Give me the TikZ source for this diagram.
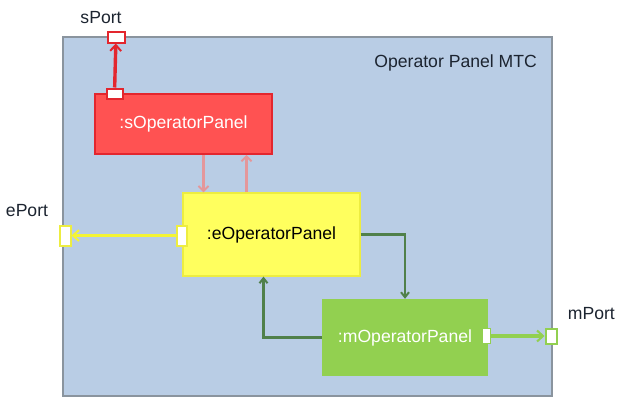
\documentclass[tikz,border=0pt]{standalone}
\usepackage{fontspec}
\setmainfont{Liberation Sans}
\usepackage{xcolor}
\usepackage{tikz}
\usetikzlibrary{arrows.meta}
\definecolor{mtcblue}{HTML}{B9CDE5}
\definecolor{mtcgray}{HTML}{8A949E}
\definecolor{panelred}{HTML}{FF5252}
\definecolor{edgered}{HTML}{E3262E}
\definecolor{panelyellow}{HTML}{FFFF5E}
\definecolor{edgeyellow}{HTML}{EDED40}
\definecolor{panelgreen}{HTML}{92D050}
\definecolor{linkpink}{HTML}{E4979B}
\definecolor{linkgreen}{HTML}{50804A}
\definecolor{linkyellow}{HTML}{F4F434}
\definecolor{textdark}{HTML}{1C2430}

\begin{document}
\begin{tikzpicture}[
        x=1pt, y=-1pt,
        font=\fontsize{17.6}{20}\selectfont,
        container/.style={rectangle, draw=mtcgray, line width=1.8pt, fill=mtcblue},
        panel/.style={rectangle, inner sep=0pt, minimum width=#1},
        portbox/.style={rectangle, inner sep=0pt, fill=white, line width=2pt},
        label/.style={inner sep=0pt, text=textdark},
        barb/.style={-{Straight Barb[length=6pt, width=11pt, line width=2pt]}},
        pinkarrow/.style={-{Straight Barb[length=5pt, width=10pt, line width=2pt]}, draw=linkpink, line width=3pt},
        darkarrow/.style={-{Straight Barb[length=5pt, width=8pt, line width=2pt]}, draw=linkgreen, line width=2.6pt}
    ]
        \useasboundingbox (0,0) rectangle (617,399);

        \node[container, inner sep=0pt, minimum width=489pt, minimum height=359pt] (mtc) at (307.5,216.5) {};
        \node[label, anchor=east] (title) at (537,63) {Operator Panel MTC};

        \node[panel=177pt, minimum height=60pt, fill=panelred, draw=edgered, line width=1.8pt, text=white] (spanel) at (183.5,124) {:sOperatorPanel};
        \node[panel=177pt, minimum height=83pt, fill=panelyellow, draw=edgeyellow, line width=1.2pt] (epanel) at (271.5,234.5) {:eOperatorPanel};
        \node[panel=166pt, minimum height=77pt, fill=panelgreen, text=white] (mpanel) at (405,337.5) {\raisebox{3pt}{:mOperatorPanel}};

        \node[portbox, draw=edgered, minimum width=16pt, minimum height=10pt] (sin) at (114.5,93.5) {};
        \node[portbox, draw=edgered, minimum width=17pt, minimum height=11pt] (sport) at (116,37) {};
        \node[portbox, draw=edgeyellow, minimum width=10pt, minimum height=20pt] (ein) at (181.5,235.5) {};
        \node[portbox, draw=edgeyellow, minimum width=11pt, minimum height=20pt] (eport) at (65,235.5) {};
        \node[portbox, draw=panelgreen, line width=0.6pt, minimum width=8pt, minimum height=15pt] (min) at (486,336) {};
        \node[portbox, draw=panelgreen, minimum width=11pt, minimum height=15pt] (mport) at (551,336) {};

        \node[label] (sportlabel) at (101,18) {sPort};
        \node[label] (eportlabel) at (27,211) {ePort};
        \node[label, anchor=east] (mportlabel) at (615,314) {mPort};

        \draw[barb, draw=edgered, line width=3.4pt] (sin) -- (sport);
        \draw[barb, draw=linkyellow, line width=3.4pt] (ein) -- (eport);
        \draw[barb, draw=panelgreen, line width=3.4pt] (min) -- (mport);

        \draw[pinkarrow] ([xshift=20pt]spanel.south) -- ([xshift=20pt]spanel.south |- epanel.north);
        \draw[pinkarrow] ([xshift=-25pt]epanel.north) -- ([xshift=-25pt]epanel.north |- spanel.south);

        \draw[darkarrow] (epanel.east) -| (mpanel.north);
        \draw[darkarrow] (mpanel.west) -| ([xshift=-8pt]epanel.south);
    \end{tikzpicture}
\end{document}
